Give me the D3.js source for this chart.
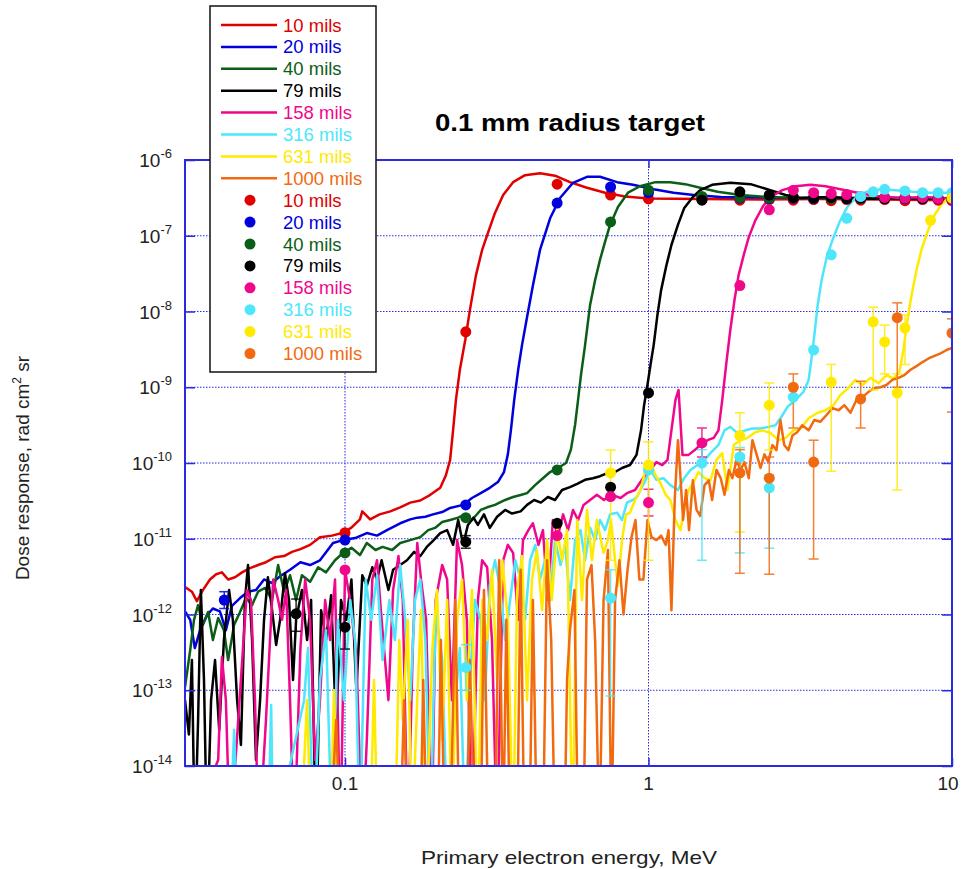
<!DOCTYPE html>
<html>
<head>
<meta charset="utf-8">
<script src="https://cdn.jsdelivr.net/npm/d3@7"></script>
<style>
    body { margin: 0; background: #fff; }
    text { font-family: "Liberation Sans", Arial, Helvetica, sans-serif; }
</style>
</head>
<body>
<script>
// [energy MeV, dose rad cm2 sr]
const line10 = [[0.0297,2.3e-12],[0.0313,2.0e-12],[0.0325,1.5e-12],[0.034,2.1e-12],[0.0359,2.9e-12],[0.0376,3.4e-12],[0.0393,3.6e-12],[0.0412,2.9e-12],[0.0434,3.1e-12],[0.0458,3.6e-12],[0.0486,4.1e-12],[0.0517,4.5e-12],[0.0549,4.9e-12],[0.0588,5.7e-12],[0.063,5.9e-12],[0.0669,6.7e-12],[0.0713,7.3e-12],[0.0767,8.3e-12],[0.0827,1.05e-11],[0.0906,1.1e-11],[0.0985,1.2e-11],[0.105,1.4e-11],[0.112,1.8e-11],[0.114,2.3e-11],[0.121,1.8e-11],[0.130,2.1e-11],[0.141,2.3e-11],[0.152,2.6e-11],[0.164,3.0e-11],[0.177,3.2e-11],[0.191,3.8e-11],[0.206,4.7e-11],[0.215,6.9e-11],[0.222,1.1e-10],[0.227,2.7e-10],[0.232,6.8e-10],[0.239,1.7e-9],[0.249,4.2e-9],[0.258,1.05e-8],[0.270,3.0e-8],[0.283,6.5e-8],[0.296,1.1e-7],[0.312,2.0e-7],[0.332,3.45e-7],[0.358,5.1e-7],[0.392,6.3e-7],[0.439,6.7e-7],[0.492,6.2e-7],[0.551,5.1e-7],[0.627,4.3e-7],[0.719,3.7e-7],[0.837,3.3e-7],[1.0,3.1e-7],[1.48,3.05e-7],[2.34,3.0e-7],[3.68,3.05e-7],[5.8,3.0e-7],[10,2.95e-7]];
const line20 = [[0.0297,1.1e-12],[0.0309,8.5e-13],[0.032,3.6e-13],[0.0333,6.2e-13],[0.0351,9.8e-13],[0.0367,1.2e-12],[0.0387,1.1e-12],[0.0405,6.2e-13],[0.0424,1.3e-12],[0.0451,1.65e-12],[0.0479,2.0e-12],[0.0509,2.1e-12],[0.0541,2.9e-12],[0.0575,2.6e-12],[0.0611,3.2e-12],[0.0659,3.9e-12],[0.0713,4.9e-12],[0.0767,4.5e-12],[0.0827,5.2e-12],[0.0913,8.8e-12],[0.0985,9.6e-12],[0.108,1.02e-11],[0.118,1.19e-11],[0.1275,1.1e-11],[0.1375,1.3e-11],[0.152,1.6e-11],[0.164,1.8e-11],[0.173,1.9e-11],[0.184,1.95e-11],[0.195,2.1e-11],[0.209,2.25e-11],[0.222,2.55e-11],[0.245,2.8e-11],[0.262,3.45e-11],[0.280,4.0e-11],[0.300,4.7e-11],[0.319,5.6e-11],[0.334,7.6e-11],[0.344,1.3e-10],[0.352,2.7e-10],[0.361,6.8e-10],[0.372,1.7e-9],[0.383,3.6e-9],[0.398,8.45e-9],[0.416,2.2e-8],[0.439,6.5e-8],[0.474,1.7e-7],[0.511,3.15e-7],[0.564,5.0e-7],[0.627,6.0e-7],[0.692,6.0e-7],[0.788,5.1e-7],[0.889,4.7e-7],[1.04,4.1e-7],[1.21,3.7e-7],[1.41,3.45e-7],[1.73,3.25e-7],[3.17,3.15e-7],[5.82,3.15e-7],[10,3.1e-7]];
const line40 = [[0.0297,1.1e-13],[0.0309,3.4e-13],[0.0318,8.5e-13],[0.0328,1.33e-12],[0.034,7.3e-13],[0.0354,1.08e-12],[0.0367,4.6e-13],[0.0382,9.0e-13],[0.0399,6.2e-13],[0.0412,2.5e-13],[0.0431,7.3e-13],[0.0451,1.08e-12],[0.0472,1.65e-12],[0.0494,1.33e-12],[0.0517,2.0e-12],[0.0545,2.24e-12],[0.0575,1.55e-12],[0.0602,4.5e-12],[0.063,2.0e-12],[0.0659,3.3e-12],[0.069,1.55e-12],[0.0721,3.3e-12],[0.0767,2.7e-12],[0.0815,4.2e-12],[0.0866,3.6e-12],[0.0927,5.2e-12],[0.0985,6.5e-12],[0.105,7.6e-12],[0.112,6.1e-12],[0.118,8.8e-12],[0.126,7.1e-12],[0.133,7.8e-12],[0.143,7.1e-12],[0.152,8.8e-12],[0.164,9.6e-12],[0.177,1.05e-11],[0.188,1.3e-11],[0.198,1.39e-11],[0.209,1.66e-11],[0.222,1.77e-11],[0.236,1.9e-11],[0.249,2.1e-11],[0.262,1.77e-11],[0.280,2.4e-11],[0.294,2.6e-11],[0.312,2.8e-11],[0.337,3.25e-11],[0.358,3.56e-11],[0.379,3.78e-11],[0.398,4.0e-11],[0.423,5.1e-11],[0.446,6.15e-11],[0.474,7.6e-11],[0.503,8.6e-11],[0.535,1.0e-10],[0.555,1.5e-10],[0.573,3.2e-10],[0.586,6.8e-10],[0.599,1.45e-9],[0.618,3.6e-9],[0.642,1.22e-8],[0.667,2.6e-8],[0.692,4.8e-8],[0.719,8.3e-8],[0.747,1.39e-7],[0.793,2.4e-7],[0.856,3.7e-7],[0.937,4.5e-7],[1.054,5.1e-7],[1.18,5.1e-7],[1.32,4.8e-7],[1.48,4.3e-7],[1.69,3.8e-7],[2.01,3.45e-7],[2.47,3.25e-7],[3.17,3.15e-7],[5.82,3.15e-7],[10,3.1e-7]];
const line79 = [[0.0297,7.4e-14],[0.0306,2.6e-14],[0.0313,2.5e-13],[0.032,1e-15],[0.0328,4.05e-14],[0.0335,2.1e-12],[0.0343,1.37e-13],[0.0351,1e-15],[0.0362,7.4e-14],[0.0373,2.5e-13],[0.0385,3.0e-14],[0.0399,4.6e-13],[0.0415,2.1e-12],[0.0427,8.5e-13],[0.0441,7.4e-14],[0.0454,1.9e-14],[0.0468,1.55e-12],[0.0479,4.5e-12],[0.0494,4.6e-13],[0.0509,1.2e-14],[0.0525,7.4e-14],[0.0541,8.5e-13],[0.0557,3.1e-12],[0.0575,1.14e-12],[0.0593,3.96e-13],[0.0611,8.5e-13],[0.0634,3.5e-12],[0.0654,1.55e-12],[0.0674,1.37e-13],[0.069,8.5e-13],[0.0721,2.1e-12],[0.075,4.6e-13],[0.0773,1.55e-12],[0.0803,1e-15],[0.0834,1.14e-12],[0.0866,4.6e-13],[0.090,1.8e-12],[0.0935,3.0e-14],[0.097,1.55e-12],[0.101,8.5e-13],[0.105,2.9e-12],[0.109,1.0e-13],[0.114,3.3e-12],[0.118,2.4e-12],[0.123,4.2e-12],[0.1275,2.9e-12],[0.132,5.2e-12],[0.139,2.1e-12],[0.144,3.9e-12],[0.152,4.5e-12],[0.160,5.2e-12],[0.169,6.7e-12],[0.177,5.9e-12],[0.186,7.8e-12],[0.196,9.6e-12],[0.206,1.19e-11],[0.217,1.3e-11],[0.227,8.3e-12],[0.236,1.77e-11],[0.245,8.3e-12],[0.254,1.52e-11],[0.265,1.9e-11],[0.274,1.52e-11],[0.287,2.1e-11],[0.300,1.39e-11],[0.317,1.95e-11],[0.337,2.4e-11],[0.355,2.15e-11],[0.379,2.3e-11],[0.398,2.8e-11],[0.420,3.25e-11],[0.442,3.0e-11],[0.466,3.56e-11],[0.492,3.25e-11],[0.519,4.4e-11],[0.551,4.8e-11],[0.582,5.3e-11],[0.618,6.0e-11],[0.656,6.3e-11],[0.692,6.7e-11],[0.736,7.4e-11],[0.776,7.6e-11],[0.818,8.6e-11],[0.869,9.4e-11],[0.913,1.28e-10],[0.945,2.7e-10],[0.967,5.8e-10],[0.992,1.07e-9],[1.015,1.97e-9],[1.04,3.6e-9],[1.07,9.0e-9],[1.10,1.9e-8],[1.146,4.1e-8],[1.19,7.55e-8],[1.25,1.39e-7],[1.31,2.3e-7],[1.40,3.25e-7],[1.48,4.0e-7],[1.62,4.7e-7],[1.86,5.0e-7],[2.17,4.8e-7],[2.52,4.0e-7],[2.83,3.45e-7],[3.17,3.15e-7],[3.98,3.25e-7],[5.0,3.06e-7],[6.76,3.15e-7],[10,3.1e-7]];
const line158 = [[0.0297,1e-15],[0.0382,1.2e-14],[0.0393,2.75e-13],[0.0405,7.4e-14],[0.0418,1e-15],[0.0475,2.1e-12],[0.049,1.55e-12],[0.0505,7.4e-14],[0.052,1e-15],[0.0549,4.05e-14],[0.0566,4.6e-13],[0.058,2.9e-12],[0.0602,1.55e-12],[0.062,8.5e-13],[0.064,2.1e-12],[0.0659,7.4e-14],[0.068,1e-15],[0.0713,3.6e-13],[0.0739,2.9e-12],[0.0767,8.5e-13],[0.0797,1.2e-14],[0.0827,7.4e-14],[0.086,1.55e-12],[0.0893,4.6e-13],[0.0927,2.9e-12],[0.0966,1e-15],[0.100,3.87e-12],[0.1039,1.55e-12],[0.109,2.9e-13],[0.114,1e-15],[0.118,2.2e-14],[0.123,2.9e-12],[0.1275,5.2e-12],[0.132,8.5e-13],[0.139,7.4e-14],[0.144,2.1e-12],[0.150,5.9e-12],[0.155,1.55e-12],[0.161,1e-15],[0.1675,4.6e-13],[0.173,8.8e-12],[0.178,2.9e-12],[0.185,8.5e-13],[0.193,1e-15],[0.199,1.55e-12],[0.209,4.5e-12],[0.217,2.9e-12],[0.225,7.4e-14],[0.234,9.6e-12],[0.243,4.5e-12],[0.252,8.5e-13],[0.262,1e-15],[0.274,1.55e-12],[0.283,5.2e-12],[0.294,4.2e-12],[0.305,4.6e-13],[0.317,1e-15],[0.332,5.2e-12],[0.344,8.3e-12],[0.358,6.5e-12],[0.372,8.5e-13],[0.386,9.6e-12],[0.402,1.3e-11],[0.416,1.6e-11],[0.434,8.3e-12],[0.449,1.3e-11],[0.466,1.55e-12],[0.484,1.77e-11],[0.503,1.1e-11],[0.523,2.1e-11],[0.543,1.3e-11],[0.564,2.4e-11],[0.586,1.77e-11],[0.611,2.8e-11],[0.642,3.25e-11],[0.676,3.8e-11],[0.713,3.25e-11],[0.758,3.8e-11],[0.809,3.45e-11],[0.849,4.0e-11],[0.903,4.4e-11],[0.959,6.3e-11],[1.015,8.1e-11],[1.062,1.03e-10],[1.11,9.4e-11],[1.155,1.1e-10],[1.19,2.7e-10],[1.227,6.8e-10],[1.256,9.2e-10],[1.294,1.28e-10],[1.355,1.28e-10],[1.42,1.48e-10],[1.48,1.73e-10],[1.565,2.0e-10],[1.64,2.15e-10],[1.70,2.7e-10],[1.75,6.8e-10],[1.81,2.3e-9],[1.86,5.7e-9],[1.92,1.42e-8],[1.98,3.0e-8],[2.06,5.6e-8],[2.14,9.6e-8],[2.25,1.6e-7],[2.39,2.5e-7],[2.56,3.35e-7],[2.76,4.0e-7],[3.05,4.5e-7],[3.42,4.7e-7],[3.83,4.5e-7],[4.29,4.1e-7],[4.88,3.7e-7],[5.6,3.35e-7],[6.76,3.15e-7],[8.18,3.25e-7],[10,3.06e-7]];
const line316 = [[0.0418,1e-15],[0.0431,3.0e-14],[0.0444,1e-15],[0.0557,1e-15],[0.0571,6.4e-14],[0.058,1e-15],[0.0733,7.4e-14],[0.0755,3.6e-13],[0.0789,1e-15],[0.0827,1.37e-13],[0.0866,6.2e-13],[0.0906,1e-15],[0.0948,8.5e-13],[0.0992,7.4e-14],[0.104,1.55e-12],[0.108,4.6e-13],[0.112,1e-15],[0.117,2.9e-12],[0.122,8.5e-13],[0.1275,3.3e-12],[0.133,2.5e-13],[0.140,1.55e-12],[0.146,4.6e-13],[0.152,4.5e-12],[0.158,8.5e-13],[0.164,7.4e-14],[0.170,1.55e-12],[0.177,2.9e-12],[0.184,4.6e-13],[0.191,1e-15],[0.199,1.14e-12],[0.209,2.5e-13],[0.218,1e-15],[0.231,7.4e-14],[0.239,3.6e-13],[0.249,1e-15],[0.258,1.37e-13],[0.268,1.55e-12],[0.280,8.5e-13],[0.289,7.4e-14],[0.300,2.4e-12],[0.312,5.2e-12],[0.325,2.1e-12],[0.337,4.6e-13],[0.350,1.55e-12],[0.364,5.2e-12],[0.379,2.9e-12],[0.392,8.5e-13],[0.407,5.2e-12],[0.424,8.3e-12],[0.439,2.9e-12],[0.456,5.2e-12],[0.474,1.55e-12],[0.492,9.6e-12],[0.513,4.5e-12],[0.531,8.3e-12],[0.551,1.55e-12],[0.573,9.6e-12],[0.597,1.3e-11],[0.618,5.2e-12],[0.642,1.4e-11],[0.667,9.6e-12],[0.692,1.77e-11],[0.719,1.3e-11],[0.747,2.1e-11],[0.788,2.2e-11],[0.818,1.77e-11],[0.849,3.0e-11],[0.889,3.25e-11],[0.916,3.56e-11],[0.959,5.1e-11],[1.015,8.1e-11],[1.062,6.0e-11],[1.12,6.3e-11],[1.18,5.1e-11],[1.25,4.4e-11],[1.31,6.3e-11],[1.375,8.1e-11],[1.45,9.4e-11],[1.51,1.03e-10],[1.60,1.35e-10],[1.70,1.73e-10],[1.78,2.7e-10],[1.86,3.0e-10],[1.96,2.5e-10],[2.09,2.7e-10],[2.2,2.85e-10],[2.34,2.85e-10],[2.49,3.0e-10],[2.62,3.15e-10],[2.74,4.05e-10],[2.87,5.5e-10],[3.05,6.8e-10],[3.24,8.7e-10],[3.37,1.25e-9],[3.44,2.3e-9],[3.52,4.9e-9],[3.61,1.22e-8],[3.72,2.6e-8],[3.86,5.1e-8],[4.04,8.8e-8],[4.26,1.52e-7],[4.52,2.4e-7],[4.84,3.25e-7],[5.23,3.8e-7],[5.82,4.1e-7],[6.51,4.0e-7],[7.42,3.8e-7],[8.49,3.7e-7],[10,3.7e-7]];
const line631 = [[0.0713,1e-15],[0.075,7.4e-14],[0.0773,1e-15],[0.0893,1e-15],[0.092,1.0e-13],[0.0948,1e-15],[0.121,1e-15],[0.1246,1.37e-13],[0.128,1e-15],[0.146,1e-15],[0.151,4.6e-13],[0.155,4.05e-14],[0.161,8.5e-13],[0.166,1e-15],[0.173,7.4e-14],[0.178,1.14e-12],[0.185,1e-15],[0.194,3.6e-13],[0.201,2.1e-12],[0.209,2.2e-14],[0.217,1.55e-12],[0.225,1e-15],[0.234,8.5e-13],[0.243,2.9e-12],[0.252,7.4e-14],[0.262,2.1e-12],[0.274,1e-15],[0.283,1.55e-12],[0.294,4.6e-13],[0.305,3.9e-12],[0.317,1.37e-13],[0.330,5.2e-12],[0.344,8.5e-13],[0.358,1e-15],[0.369,2.1e-12],[0.383,5.9e-12],[0.398,7.4e-14],[0.413,2.9e-12],[0.429,7.1e-12],[0.446,1.14e-12],[0.463,9.6e-12],[0.48,1.55e-12],[0.5,1.3e-11],[0.519,5.2e-12],[0.539,1.3e-11],[0.562,1e-15],[0.582,1.77e-11],[0.604,1.55e-12],[0.627,2.4e-11],[0.651,5.2e-12],[0.676,1.77e-11],[0.711,6.5e-12],[0.735,9.6e-12],[0.752,1.77e-11],[0.776,5.2e-12],[0.793,2.4e-12],[0.818,9.6e-12],[0.843,2.1e-11],[0.869,2.2e-11],[0.903,3.25e-11],[0.941,4.4e-11],[0.977,8.1e-11],[1.015,1.0e-10],[1.054,6.9e-11],[1.095,5.4e-11],[1.14,3.8e-11],[1.18,3.25e-11],[1.227,1.77e-11],[1.275,1.3e-11],[1.31,2.4e-11],[1.355,4.4e-11],[1.41,5.6e-11],[1.46,7.6e-11],[1.53,6.3e-11],[1.60,5.9e-11],[1.675,1.1e-10],[1.75,1.35e-10],[1.82,4.4e-11],[1.91,1.73e-10],[2.01,2.0e-10],[2.12,2.15e-10],[2.25,2.55e-10],[2.37,2.7e-10],[2.52,2.5e-10],[2.68,2.0e-10],[2.83,2.15e-10],[3.0,2.7e-10],[3.17,2.85e-10],[3.37,3.9e-10],[3.61,4.6e-10],[3.83,4.97e-10],[4.07,5.8e-10],[4.29,7.9e-10],[4.56,9.8e-10],[4.8,1.25e-9],[5.07,1.07e-9],[5.39,1.33e-9],[5.73,1.13e-9],[6.08,1.45e-9],[6.42,1.3e-9],[6.71,1.6e-9],[6.92,3.1e-9],[7.13,7.72e-9],[7.36,1.65e-8],[7.64,3.5e-8],[7.93,6.5e-8],[8.3,1.12e-7],[8.76,1.88e-7],[9.23,2.6e-7],[9.67,3.06e-7],[10,3.25e-7]];
const line1000 = [[0.0893,1e-15],[0.0935,4.05e-14],[0.0966,1e-15],[0.152,1e-15],[0.1565,7.4e-14],[0.161,1e-15],[0.177,1e-15],[0.181,1.37e-13],[0.186,1e-15],[0.202,1e-15],[0.207,4.6e-13],[0.213,1e-15],[0.222,1e-15],[0.231,1.55e-12],[0.238,1e-15],[0.252,1e-15],[0.258,2.5e-13],[0.267,1e-15],[0.280,1e-15],[0.287,2.1e-12],[0.297,1e-15],[0.312,1e-15],[0.322,5.2e-12],[0.332,1e-15],[0.34,8.5e-13],[0.35,1e-15],[0.369,1e-15],[0.379,3.9e-12],[0.39,1e-15],[0.405,1e-15],[0.416,1.55e-12],[0.429,1e-15],[0.449,1e-15],[0.463,5.2e-12],[0.478,4.6e-13],[0.492,1e-15],[0.513,1e-15],[0.528,1e-15],[0.539,1.37e-13],[0.551,6.2e-13],[0.57,2.1e-12],[0.586,1e-15],[0.61,1e-15],[0.627,2.9e-12],[0.649,4.5e-12],[0.667,4.6e-13],[0.689,1e-15],[0.711,1.55e-12],[0.735,7.1e-12],[0.755,1e-15],[0.776,1.55e-12],[0.802,5.2e-12],[0.827,1.0e-12],[0.853,3.9e-12],[0.879,1.05e-11],[0.906,1.77e-11],[0.933,2.9e-12],[0.962,2.9e-12],[0.992,1.77e-11],[1.023,1.05e-11],[1.062,9.6e-12],[1.10,1.1e-11],[1.14,8.3e-12],[1.164,1.3e-11],[1.19,1.14e-12],[1.22,3.25e-11],[1.25,2.0e-10],[1.27,8.1e-11],[1.30,1.77e-11],[1.33,4.4e-11],[1.36,1.3e-11],[1.40,5.9e-11],[1.44,2.4e-11],[1.48,2.0e-11],[1.53,5.1e-11],[1.58,5.9e-11],[1.62,3.25e-11],[1.675,8.1e-11],[1.73,6.3e-11],[1.78,3.8e-11],[1.84,8.1e-11],[1.89,6.3e-11],[1.95,1.1e-10],[2.01,8.1e-11],[2.07,1.03e-10],[2.14,6.3e-11],[2.2,2.0e-10],[2.27,1.3e-10],[2.34,8.6e-11],[2.41,1.3e-10],[2.48,1.03e-10],[2.56,1.73e-10],[2.64,1.48e-10],[2.72,3.7e-10],[2.80,1.73e-10],[2.89,1.48e-10],[2.98,2.3e-10],[3.09,2.55e-10],[3.21,3.15e-10],[3.37,2.7e-10],[3.52,3.7e-10],[3.68,3.5e-10],[3.86,4.3e-10],[4.04,5.3e-10],[4.23,4.97e-10],[4.42,5.8e-10],[4.63,4.6e-10],[4.84,6.8e-10],[5.07,7.4e-10],[5.31,8.7e-10],[5.55,9.8e-10],[5.82,1.0e-9],[6.08,1.07e-9],[6.36,1.25e-9],[6.66,1.33e-9],[6.97,1.45e-9],[7.3,1.7e-9],[7.64,1.9e-9],[8.0,2.15e-9],[8.37,2.4e-9],[8.76,2.6e-9],[9.17,2.8e-9],[9.6,3.1e-9],[10,3.3e-9]];

// measured points: [energy, dose, errLow, errHigh]
const pts10 = [[0.1,1.2e-11],[0.25,5.4e-9],[0.5,4.8e-7],[0.75,3.45e-7],[1,3.06e-7],[1.5,3.0e-7],[2,2.95e-7],[2.5,3.0e-7],[3,2.95e-7],[3.5,3.0e-7],[4,2.9e-7],[4.5,3.0e-7],[5,2.95e-7],[6,3.0e-7],[7,2.9e-7],[8,3.0e-7],[9,2.95e-7],[10,2.9e-7]];
const pts20 = [[0.04,1.55e-12,1.2e-12,2.0e-12],[0.1,9.6e-12],[0.25,2.8e-11],[0.5,2.7e-7],[0.75,4.4e-7],[1,3.7e-7],[1.5,3.2e-7],[2,3.15e-7],[2.5,3.1e-7],[3,3.15e-7],[3.5,3.1e-7],[4,3.15e-7],[4.5,3.1e-7],[5,3.1e-7],[6,3.15e-7],[7,3.1e-7],[8,3.1e-7],[9,3.15e-7],[10,3.1e-7]];
const pts40 = [[0.1,6.5e-12],[0.25,1.9e-11],[0.5,8.1e-11],[0.75,1.52e-7],[1,4.0e-7],[1.5,3.3e-7],[2,3.2e-7],[2.5,3.15e-7],[3,3.2e-7],[3.5,3.15e-7],[4,3.1e-7],[4.5,3.15e-7],[5,3.1e-7],[6,3.1e-7],[7,3.15e-7],[8,3.1e-7],[9,3.1e-7],[10,3.1e-7]];
const pts79 = [[0.069,1.02e-12,6e-13,1.6e-12],[0.1,6.8e-13,3.5e-13,1.0e-12],[0.25,9.1e-12,7.5e-12,1.1e-11],[0.5,1.6e-11],[0.75,4.8e-11],[1,8.4e-10],[1.5,2.95e-7],[2,3.8e-7],[2.5,3.45e-7],[3,3.2e-7],[3.5,3.15e-7],[4,3.2e-7],[4.5,3.1e-7],[5,3.15e-7],[6,3.1e-7],[7,3.15e-7],[8,3.1e-7],[9,3.1e-7],[10,3.1e-7]];
const pts158 = [[0.1,3.87e-12],[0.5,1.1e-11],[0.75,3.6e-11],[1,3.0e-11,2.0e-11,4.5e-11],[1.5,1.84e-10,1.2e-10,2.9e-10],[2,2.2e-8],[2.5,2.2e-7],[3,4.0e-7],[3.5,3.7e-7],[4,3.6e-7],[4.5,3.5e-7],[5,3.3e-7],[6,3.2e-7],[7,3.15e-7],[8,3.2e-7],[9,3.1e-7],[10,3.1e-7]];
const pts316 = [[0.25,2.0e-13,1.0e-13,4.0e-13],[0.75,1.65e-12,8.4e-14,3.9e-12],[1,8.1e-11],[1.5,1.0e-10,5.2e-12,1.5e-10],[2,1.2e-10,6.5e-12,1.6e-10],[2.5,4.7e-11,7.5e-12,7e-11],[3,7.4e-10],[3.5,3.1e-9],[4,5.6e-8],[4.5,1.7e-7],[5,3.3e-7],[5.5,3.8e-7],[6,4.1e-7],[7,3.9e-7],[8,3.7e-7],[9,3.7e-7],[10,3.7e-7]];
const pts631 = [[0.75,7.4e-11,5.2e-12,1.48e-10],[1,9.4e-11,5.2e-12,1.9e-10],[2,2.3e-10,1.23e-11,4.6e-10],[2.5,5.8e-10,1.48e-10,1.14e-9],[4,1.17e-9,7.8e-11,2.0e-9],[5.5,7.3e-9,9.2e-10,1.14e-8],[6,3.96e-9,1.5e-9,6.6e-9],[6.6,8.4e-10,4.4e-11,1.5e-9],[7,6.05e-9,2e-9,9e-9],[8.5,1.6e-7],[10,3.15e-7]];
const pts1000 = [[2,7.4e-11,3.5e-12,1.5e-10],[2.5,6.3e-11,3.4e-12,1.2e-10],[3,1.0e-9,2.9e-10,1.5e-9],[3.5,1.03e-10,5.4e-12,2.0e-10],[5,7e-10,2.9e-10,1.2e-9],[6.6,8.3e-9,1e-9,1.3e-8],[10,5.2e-9,4.7e-10,8e-9]];

const seriesNames = ["10 mils", "20 mils", "40 mils", "79 mils", "158 mils", "316 mils", "631 mils", "1000 mils"];
const seriesColors = ["#e00000", "#0000dc", "#0b5e17", "#000000", "#f0088c", "#4ee6fa", "#ffea00", "#f26a10"];
const seriesLines = [line10, line20, line40, line79, line158, line316, line631, line1000];
const seriesPoints = [pts10, pts20, pts40, pts79, pts158, pts316, pts631, pts1000];

const xTicks = [0.1, 1, 10];
const yTicks = [1e-6, 1e-7, 1e-8, 1e-9, 1e-10, 1e-11, 1e-12, 1e-13, 1e-14];

const frameBlue = "#2a2ae2";
let svg = "";

window.onload = function () {
    svg = d3.select('body')
        .append('svg')
        .attr('width', 966)
        .attr('height', 869);

    const left = 185, right = 952, top = 160, bottom = 766;

    const x = d3.scaleLog().domain([0.0297, 10]).range([left, right]);
    const y = d3.scaleLog().domain([1e-14, 1e-6]).range([bottom, top]);

    svg.append('defs').append('clipPath').attr('id', 'plot')
        .append('rect')
        .attr('x', left).attr('y', top)
        .attr('width', right - left).attr('height', bottom - top);

    // dotted grid
    svg.append('g').selectAll('line.h')
        .data(yTicks.slice(1, -1))
        .join('line')
        .attr('x1', left).attr('x2', right)
        .attr('y1', d => y(d)).attr('y2', d => y(d))
        .attr('stroke', frameBlue).attr('stroke-width', 1)
        .attr('stroke-dasharray', '1.5,1.5');

    svg.append('g').selectAll('line.v')
        .data(xTicks.slice(0, -1))
        .join('line')
        .attr('x1', d => x(d)).attr('x2', d => x(d))
        .attr('y1', top).attr('y2', bottom)
        .attr('stroke', frameBlue).attr('stroke-width', 1)
        .attr('stroke-dasharray', '1.5,1.5');

    // curves
    const plot = svg.append('g').attr('clip-path', 'url(#plot)');
    const lineGen = d3.line()
        .x(d => x(d[0]))
        .y(d => y(d[1]));

    seriesLines.forEach((data, i) => {
        plot.append('path')
            .datum(data)
            .attr('d', lineGen)
            .attr('fill', 'none')
            .attr('stroke', seriesColors[i])
            .attr('stroke-width', 2.5)
            .attr('stroke-linejoin', 'round');
    });

    // error bars and points
    seriesPoints.forEach((data, i) => {
        const bars = data.filter(d => d.length > 2);
        const g = plot.append('g').attr('stroke', seriesColors[i]).attr('stroke-width', 1.5).attr('opacity', 0.85);
        g.selectAll('line.bar').data(bars).join('line')
            .attr('x1', d => x(d[0])).attr('x2', d => x(d[0]))
            .attr('y1', d => y(d[2])).attr('y2', d => y(d[3]));
        g.selectAll('line.lo').data(bars).join('line')
            .attr('x1', d => x(d[0]) - 5).attr('x2', d => x(d[0]) + 5)
            .attr('y1', d => y(d[2])).attr('y2', d => y(d[2]));
        g.selectAll('line.hi').data(bars).join('line')
            .attr('x1', d => x(d[0]) - 5).attr('x2', d => x(d[0]) + 5)
            .attr('y1', d => y(d[3])).attr('y2', d => y(d[3]));
    });

    seriesPoints.forEach((data, i) => {
        plot.append('g').selectAll('circle').data(data).join('circle')
            .attr('cx', d => x(d[0]))
            .attr('cy', d => y(d[1]))
            .attr('r', 5.5)
            .attr('fill', seriesColors[i]);
    });

    // frame and ticks
    svg.append('rect')
        .attr('x', left).attr('y', top)
        .attr('width', right - left).attr('height', bottom - top)
        .attr('fill', 'none').attr('stroke', frameBlue).attr('stroke-width', 2);

    const tickAxes = [
        [d3.axisRight(y).tickValues(yTicks).tickSize(10), `translate(${left},0)`],
        [d3.axisLeft(y).tickValues(yTicks).tickSize(10), `translate(${right},0)`],
        [d3.axisTop(x).tickValues(xTicks).tickSize(8), `translate(0,${bottom})`],
        [d3.axisBottom(x).tickValues(xTicks).tickSize(8), `translate(0,${top})`]
    ];
    tickAxes.forEach(([ax, tr]) => {
        const g = svg.append('g').attr('transform', tr).call(ax.tickFormat(''));
        g.select('.domain').remove();
        g.selectAll('line').attr('stroke', frameBlue).attr('stroke-width', 1.5);
    });

    // tick labels
    const yl = svg.append('g').selectAll('text').data(yTicks).join('text')
        .attr('x', 172)
        .attr('y', d => y(d) + 7)
        .attr('text-anchor', 'end')
        .attr('font-size', 19)
        .attr('fill', '#222');
    yl.append('tspan').text('10');
    yl.append('tspan')
        .attr('font-size', 13)
        .attr('dy', -9)
        .text(d => '-' + Math.round(-Math.log10(d)));

    svg.append('g').selectAll('text').data(xTicks).join('text')
        .attr('x', d => d === 10 ? x(d) - 4 : x(d))
        .attr('y', 790)
        .attr('text-anchor', 'middle')
        .attr('font-size', 19)
        .attr('fill', '#222')
        .text(d => d);

    // titles
    svg.append('text')
        .attr('x', 570).attr('y', 131)
        .attr('text-anchor', 'middle')
        .attr('font-size', 24).attr('font-weight', 'bold')
        .attr('textLength', 270).attr('lengthAdjust', 'spacingAndGlyphs')
        .text('0.1 mm radius target');

    svg.append('text')
        .attr('x', 569).attr('y', 864)
        .attr('text-anchor', 'middle')
        .attr('font-size', 19).attr('fill', '#222')
        .attr('textLength', 296).attr('lengthAdjust', 'spacingAndGlyphs')
        .text('Primary electron energy, MeV');

    const yt = svg.append('text')
        .attr('transform', 'translate(29,468) rotate(-90)')
        .attr('text-anchor', 'middle')
        .attr('font-size', 19).attr('fill', '#222');
    yt.append('tspan').text('Dose response, rad cm');
    yt.append('tspan').attr('font-size', 12).attr('dy', -8).text('2');
    yt.append('tspan').attr('dy', 8).text(' sr');

    makeLegend();
};

function makeLegend() {
    const lg = svg.append('g');
    lg.append('rect')
        .attr('x', 210).attr('y', 6)
        .attr('width', 166).attr('height', 366)
        .attr('fill', 'white').attr('stroke', '#111').attr('stroke-width', 1.5);

    const rowY = i => 25 + i * 21.9;

    seriesNames.forEach((name, i) => {
        lg.append('line')
            .attr('x1', 221).attr('x2', 277)
            .attr('y1', rowY(i)).attr('y2', rowY(i))
            .attr('stroke', seriesColors[i]).attr('stroke-width', 2.5);
        lg.append('text')
            .attr('x', 283).attr('y', rowY(i) + 6.5)
            .attr('font-size', 18.5).attr('fill', seriesColors[i])
            .text(name);

        lg.append('circle')
            .attr('cx', 250).attr('cy', rowY(i + 8))
            .attr('r', 5.5).attr('fill', seriesColors[i]);
        lg.append('text')
            .attr('x', 283).attr('y', rowY(i + 8) + 6.5)
            .attr('font-size', 18.5).attr('fill', seriesColors[i])
            .text(name);
    });
}
</script>
</body>
</html>
